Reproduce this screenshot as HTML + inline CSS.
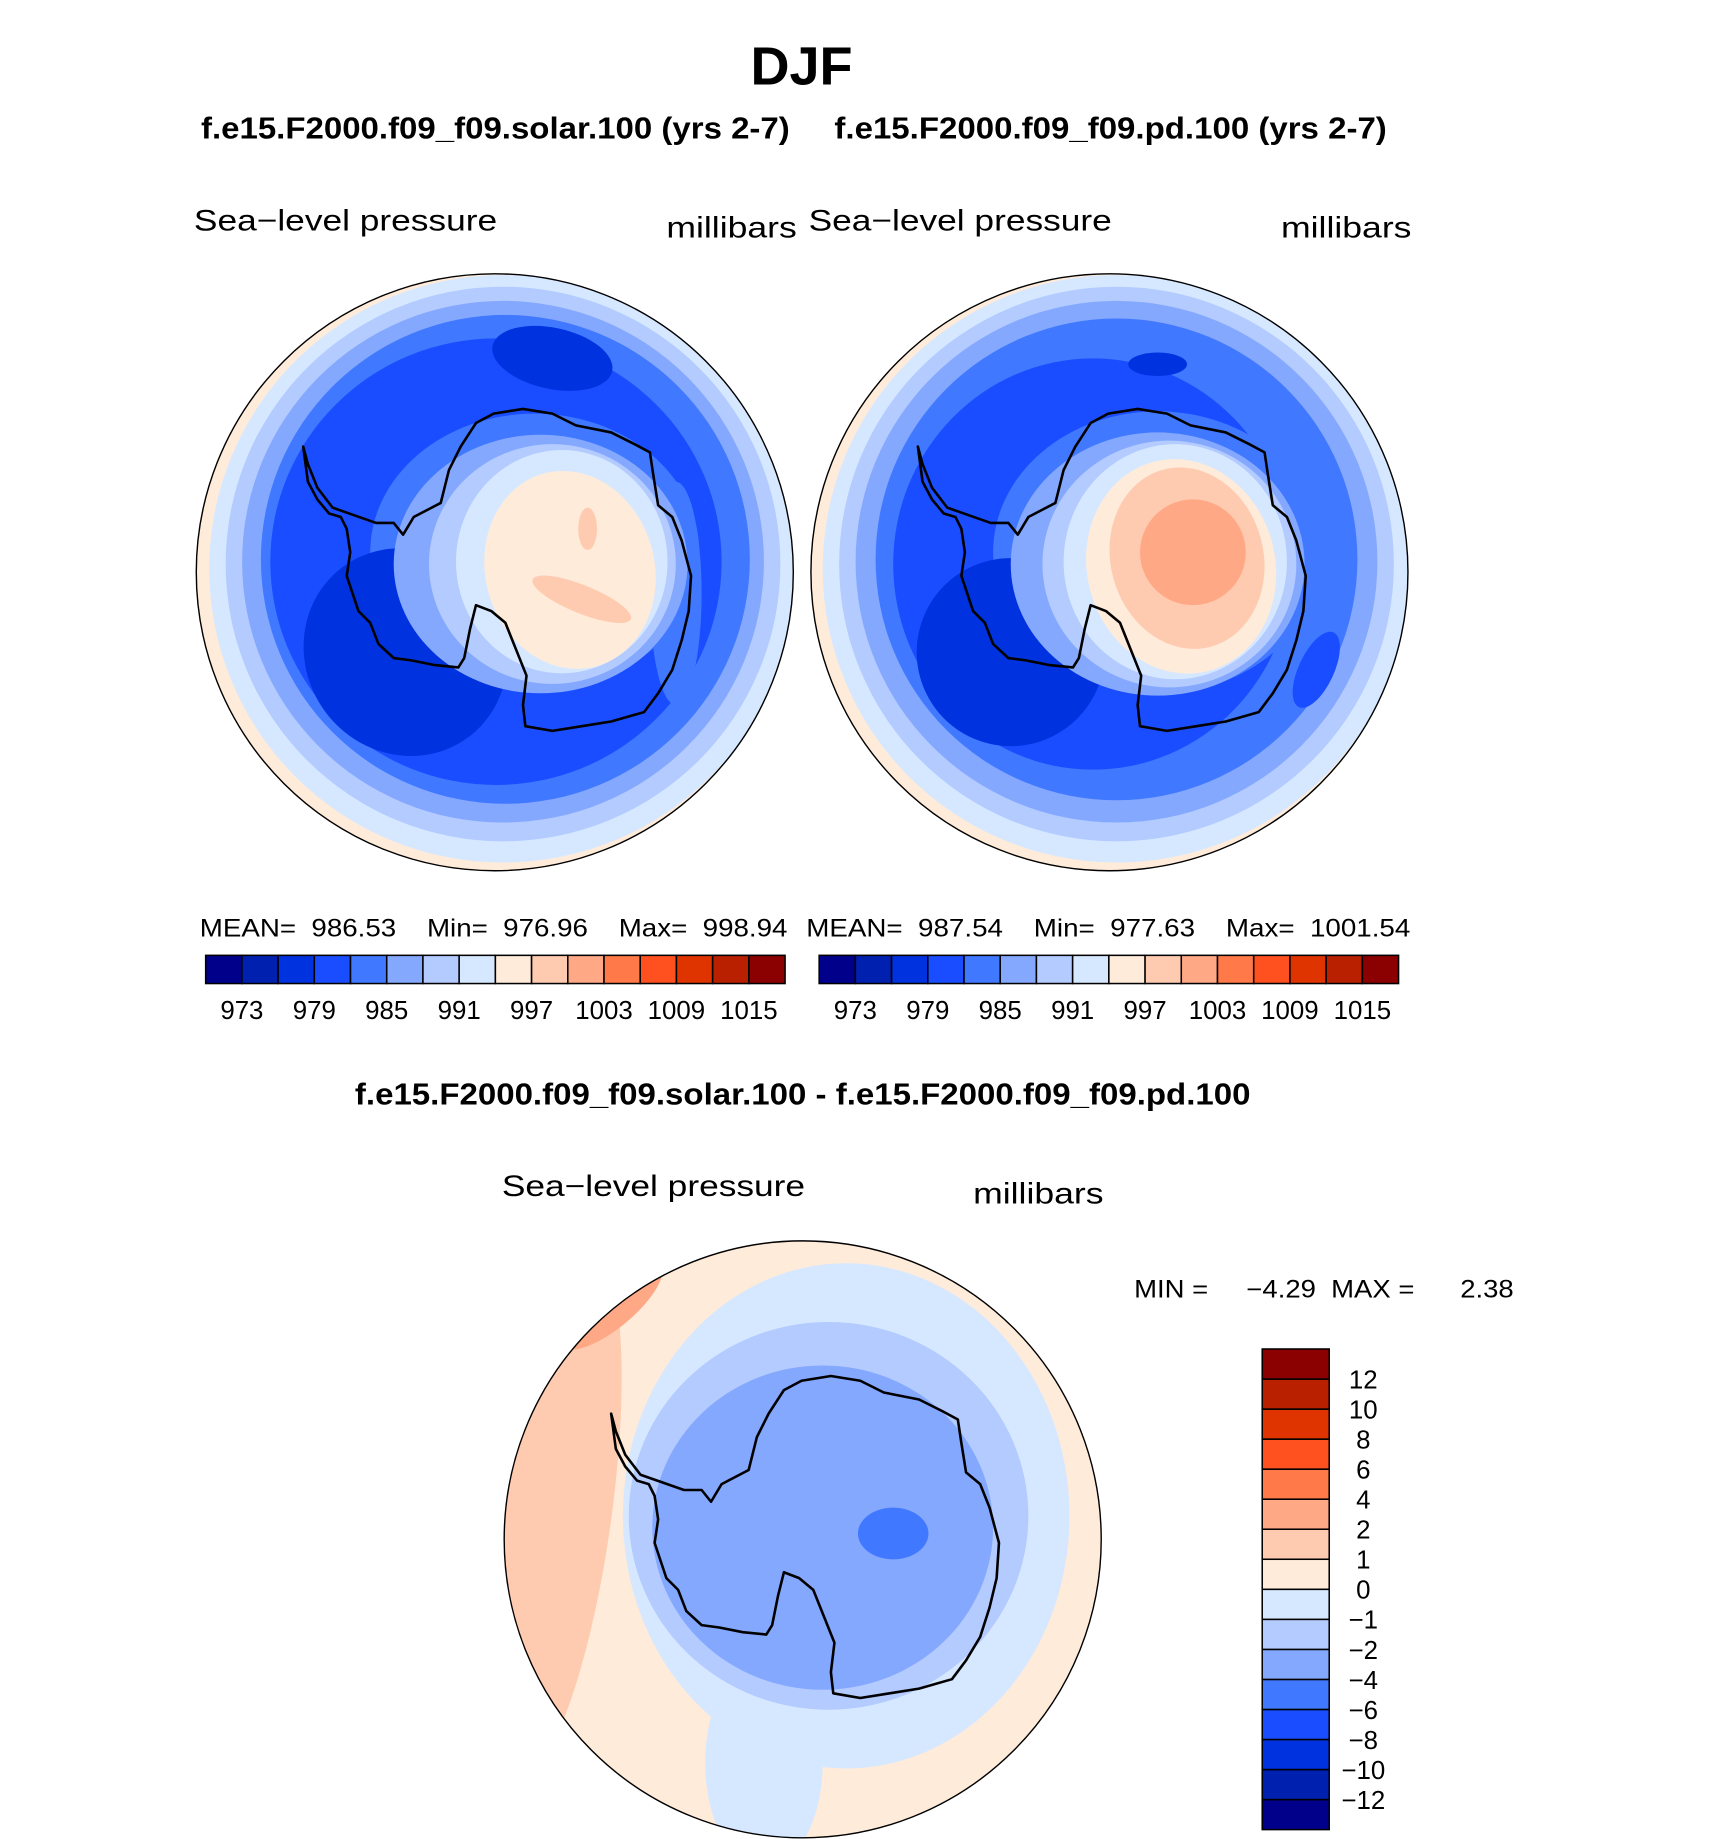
<!DOCTYPE html>
<html><head><meta charset="utf-8"><style>
html,body{margin:0;padding:0;background:#fff;}
svg{display:block;}
text{font-family:"Liberation Sans","DejaVu Sans",sans-serif;fill:#000;}
.b{font-weight:bold;}
</style></head><body>
<svg id="fig" width="1710" height="1839" viewBox="0 0 1455 1565" preserveAspectRatio="none" xmlns="http://www.w3.org/2000/svg">
<defs>
<clipPath id="c1"><circle cx="421" cy="487" r="254"/></clipPath>
<clipPath id="c2"><circle cx="944" cy="487" r="254"/></clipPath>
<clipPath id="c3"><circle cx="683" cy="1310" r="254"/></clipPath>
<path id="coast" fill="none" stroke="#000" stroke-width="2.2" stroke-linejoin="round" d="M258,380 L262,395 L270,415 L283,432 L300,438 L320,445 L335,445 L343,455 L352,440 L375,428 L382,400 L392,380 L405,360 L420,352 L445,348 L470,352 L490,362 L520,368 L540,378 L553,385 L556,405 L560,430 L572,440 L580,460 L588,490 L586,520 L580,545 L572,570 L560,590 L548,606 L520,614 L495,618 L470,622 L447,618 L445,600 L448,575 L440,555 L430,530 L418,520 L405,515 L400,535 L395,560 L390,568 L370,566 L350,562 L335,560 L322,548 L315,530 L305,520 L300,505 L295,490 L298,470 L295,450 L290,440 L280,437 L270,425 L262,410 L258,380 Z"/>
</defs>

<text class="b" x="682" y="72" font-size="46" text-anchor="middle">DJF</text>
<text class="b" x="171" y="118" font-size="26" textLength="501" lengthAdjust="spacingAndGlyphs">f.e15.F2000.f09_f09.solar.100 (yrs 2-7)</text>
<text class="b" x="710" y="118" font-size="26" textLength="470" lengthAdjust="spacingAndGlyphs">f.e15.F2000.f09_f09.pd.100 (yrs 2-7)</text>

<text x="165" y="196" font-size="25" textLength="258" lengthAdjust="spacingAndGlyphs">Sea−level pressure</text>
<text x="567" y="202" font-size="25" textLength="111" lengthAdjust="spacingAndGlyphs">millibars</text>
<text x="688" y="196" font-size="25" textLength="258" lengthAdjust="spacingAndGlyphs">Sea−level pressure</text>
<text x="1090" y="202" font-size="25" textLength="111" lengthAdjust="spacingAndGlyphs">millibars</text>

<g clip-path="url(#c1)">
<rect x="160" y="230" width="520" height="520" fill="#ffebd9"/>
<ellipse cx="428" cy="484" rx="250" ry="250" fill="#d6e8ff"/>
<ellipse cx="428" cy="480" rx="236" ry="236" fill="#b3cbff"/>
<ellipse cx="428" cy="478" rx="222" ry="222" fill="#85a8ff"/>
<ellipse cx="430" cy="476" rx="208" ry="208" fill="#4078ff"/>
<ellipse cx="422" cy="478" rx="192" ry="190" fill="#1a4dff"/>
<ellipse cx="455" cy="470" rx="140" ry="118" fill="#4078ff"/>
<ellipse cx="575" cy="505" rx="22" ry="95" fill="#4078ff"/>
<ellipse cx="345" cy="555" rx="85" ry="90" transform="rotate(-35 345 555)" fill="#0032e0"/>
<ellipse cx="470" cy="305" rx="52" ry="26" transform="rotate(12 470 305)" fill="#0032e0"/>
<ellipse cx="460" cy="480" rx="125" ry="110" fill="#85a8ff"/>
<ellipse cx="470" cy="480" rx="105" ry="102" fill="#b3cbff"/>
<ellipse cx="478" cy="478" rx="90" ry="95" fill="#d6e8ff"/>
<ellipse cx="485" cy="485" rx="72" ry="85" transform="rotate(-15 485 485)" fill="#ffebd9"/>
<ellipse cx="495" cy="510" rx="45" ry="12" transform="rotate(22 495 510)" fill="#ffcbb0"/>
<ellipse cx="500" cy="450" rx="8" ry="18" fill="#ffcbb0"/>
<use href="#coast"/>
</g>
<circle cx="421" cy="487" r="254" fill="none" stroke="#000" stroke-width="1.2"/>

<g clip-path="url(#c2)">
<rect x="683" y="230" width="520" height="520" fill="#ffebd9"/>
<ellipse cx="950" cy="484" rx="250" ry="250" fill="#d6e8ff"/>
<ellipse cx="950" cy="480" rx="236" ry="236" fill="#b3cbff"/>
<ellipse cx="950" cy="478" rx="222" ry="222" fill="#85a8ff"/>
<ellipse cx="950" cy="476" rx="205" ry="205" fill="#4078ff"/>
<ellipse cx="930" cy="480" rx="170" ry="175" fill="#1a4dff"/>
<ellipse cx="985" cy="470" rx="140" ry="120" fill="#4078ff"/>
<ellipse cx="860" cy="555" rx="80" ry="80" transform="rotate(-35 860 555)" fill="#0032e0"/>
<ellipse cx="985" cy="310" rx="25" ry="10" fill="#0032e0"/>
<ellipse cx="1120" cy="570" rx="15" ry="35" transform="rotate(25 1120 570)" fill="#1a4dff"/>
<ellipse cx="985" cy="480" rx="125" ry="112" fill="#85a8ff"/>
<ellipse cx="995" cy="480" rx="108" ry="105" fill="#b3cbff"/>
<ellipse cx="1000" cy="478" rx="95" ry="100" fill="#d6e8ff"/>
<ellipse cx="1005" cy="482" rx="80" ry="92" transform="rotate(-15 1005 482)" fill="#ffebd9"/>
<ellipse cx="1010" cy="475" rx="65" ry="78" transform="rotate(-15 1010 475)" fill="#ffcbb0"/>
<ellipse cx="1015" cy="470" rx="45" ry="45" fill="#ffa886"/>
<use href="#coast" transform="translate(523 0)"/>
</g>
<circle cx="944" cy="487" r="254" fill="none" stroke="#000" stroke-width="1.2"/>

<text x="170" y="797" font-size="21" textLength="500" lengthAdjust="spacingAndGlyphs" xml:space="preserve">MEAN=  986.53    Min=  976.96    Max=  998.94</text>
<text x="686" y="797" font-size="21" textLength="514" lengthAdjust="spacingAndGlyphs" xml:space="preserve">MEAN=  987.54    Min=  977.63    Max=  1001.54</text>
<g id="cb1"></g>
<g id="cb2"></g>

<text class="b" x="302" y="940" font-size="26" textLength="762" lengthAdjust="spacingAndGlyphs">f.e15.F2000.f09_f09.solar.100 - f.e15.F2000.f09_f09.pd.100</text>
<text x="427" y="1018" font-size="25" textLength="258" lengthAdjust="spacingAndGlyphs">Sea−level pressure</text>
<text x="828" y="1024" font-size="25" textLength="111" lengthAdjust="spacingAndGlyphs">millibars</text>

<g clip-path="url(#c3)">
<rect x="420" y="1050" width="530" height="520" fill="#ffebd9"/>
<ellipse cx="470" cy="1290" rx="50" ry="230" transform="rotate(8 470 1290)" fill="#ffcbb0"/>
<ellipse cx="520" cy="1110" rx="55" ry="20" transform="rotate(-40 520 1110)" fill="#ffa886"/>
<ellipse cx="720" cy="1290" rx="190" ry="215" fill="#d6e8ff"/>
<ellipse cx="650" cy="1500" rx="50" ry="90" fill="#d6e8ff"/>
<ellipse cx="705" cy="1290" rx="170" ry="165" fill="#b3cbff"/>
<ellipse cx="700" cy="1300" rx="145" ry="138" fill="#85a8ff"/>
<ellipse cx="760" cy="1305" rx="30" ry="22" fill="#4078ff"/>
<use href="#coast" transform="translate(262 823)"/>
</g>
<circle cx="683" cy="1310" r="254" fill="none" stroke="#000" stroke-width="1.2"/>

<text x="965" y="1104" font-size="21" textLength="323" lengthAdjust="spacingAndGlyphs" xml:space="preserve">MIN =     −4.29  MAX =      2.38</text>
<g id="cb3"></g>
</svg>
<script>
const colors = ["#00008b","#0020b0","#0032e0","#1a4dff","#4078ff","#85a8ff","#b3cbff","#d6e8ff","#ffebd9","#ffcbb0","#ffa886","#ff7a48","#ff5020","#e03400","#b82000","#8b0000"];
const absLabels = ["973","979","985","991","997","1003","1009","1015"];
const diffLabels = ["−12","−10","−8","−6","−4","−2","−1","0","1","2","4","6","8","10","12"];
const NS = "http://www.w3.org/2000/svg";
function mk(tag, attrs, parent){const e=document.createElementNS(NS,tag);for(const k in attrs)e.setAttribute(k,attrs[k]);parent.appendChild(e);return e;}
function hbar(id, x0, x1, y, h){
  const g=document.getElementById(id);
  const w=(x1-x0)/colors.length;
  colors.forEach((c,i)=>{
    const r=mk("rect",{x:x0+i*w,y:y,width:w,height:h,fill:c,stroke:"#000","stroke-width":1.3},g);
    
    
  });
  absLabels.forEach((t,i)=>{
    const tx=mk("text",{x:x0+w*(1+2*i),y:y+h+30,"font-size":22,"text-anchor":"middle"},g);
    tx.textContent=t;
    
    
  });
}
hbar("cb1",175,668,813,24);
hbar("cb2",697,1190,813,24);
(function(){
  const g=document.getElementById("cb3");
  const x0=1074,x1=1131,y0=1148,y1=1557;
  const h=(y1-y0)/colors.length;
  colors.forEach((c,i)=>{
    const r=mk("rect",{x:x0,y:y1-(i+1)*h,width:x1-x0,height:h,fill:c,stroke:"#000","stroke-width":1.3},g);
    
    
  });
  diffLabels.forEach((t,i)=>{
    const tx=mk("text",{x:1160,y:y1-(i+1)*h+8,"font-size":22,"text-anchor":"middle"},g);
    tx.textContent=t;
    
    
  });
})();
</script>
</body></html>
